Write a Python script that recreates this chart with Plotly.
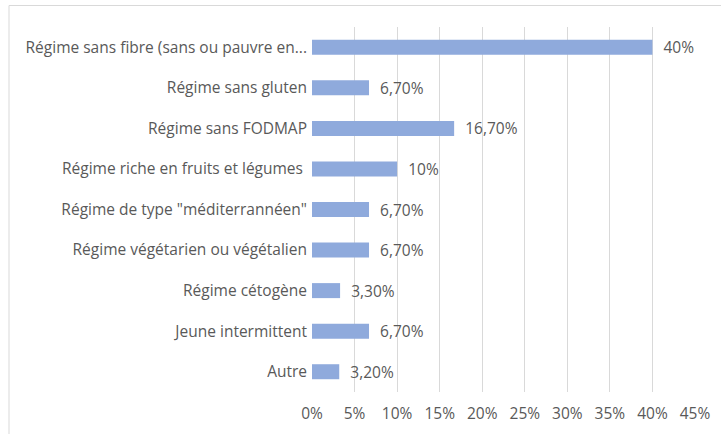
import plotly.graph_objects as go

categories = [
    "Régime sans fibre (sans ou pauvre en...",
    "Régime sans gluten",
    "Régime sans FODMAP",
    "Régime riche en fruits et légumes ",
    "Régime de type \"méditerrannéen\"",
    "Régime végétarien ou végétalien",
    "Régime cétogène",
    "Jeune intermittent",
    "Autre",
]
values = [40, 6.7, 16.7, 10, 6.7, 6.7, 3.3, 6.7, 3.2]
value_labels = ["40%", "6,70%", "16,70%", "10%", "6,70%", "6,70%", "3,30%", "6,70%", "3,20%"]
tick_vals = [0, 5, 10, 15, 20, 25, 30, 35, 40, 45]
tick_text = ["0%", "5%", "10%", "15%", "20%", "25%", "30%", "35%", "40%", "45%"]

font_family = "Open Sans"
font_size = 15.5
text_color = "#595959"

L, R, T, B = 312, 26, 27, 42
W, H = 721, 434
pw, ph = W - L - R, H - T - B

fig = go.Figure(go.Bar(
    y=categories,
    x=values,
    orientation="h",
    marker=dict(color="#8FAADC", line=dict(width=0)),
    text=["\u00a0\u00a0" + t for t in value_labels],
    textposition="outside",
    constraintext="none",
    textfont=dict(family=font_family, size=font_size, color=text_color),
    cliponaxis=False,
    hoverinfo="skip",
))

fig.update_layout(
    width=W, height=H,
    margin=dict(l=L, r=R, t=T, b=B, autoexpand=False),
    paper_bgcolor="white", plot_bgcolor="white",
    bargap=0.63,
    showlegend=False,
    font=dict(family=font_family, size=font_size, color=text_color),
    xaxis=dict(
        range=[0, 45], tickvals=tick_vals, ticktext=tick_text,
        showgrid=True, gridcolor="#D9D9D9", gridwidth=1,
        zeroline=False, showline=False, ticks="",
        ticklabelstandoff=10,
        tickfont=dict(family=font_family, size=font_size, color=text_color),
    ),
    yaxis=dict(
        autorange="reversed", showgrid=False, zeroline=False,
        showline=False, ticks="", ticklabelstandoff=4,
        tickfont=dict(family=font_family, size=font_size, color=text_color),
    ),
    shapes=[dict(
        type="rect", xref="paper", yref="paper",
        x0=(9 - L) / pw, x1=(W + 20 - L) / pw,
        y0=-(B + 20) / ph, y1=1 + (T - 5.5) / ph,
        line=dict(color="#D9D9D9", width=1), fillcolor="rgba(0,0,0,0)",
        layer="below",
    )],
)

fig.write_html(
    "out.html",
    config={"displayModeBar": False, "staticPlot": True},
    post_script="document.body.style.margin='0';document.body.style.overflow='hidden';",
)
